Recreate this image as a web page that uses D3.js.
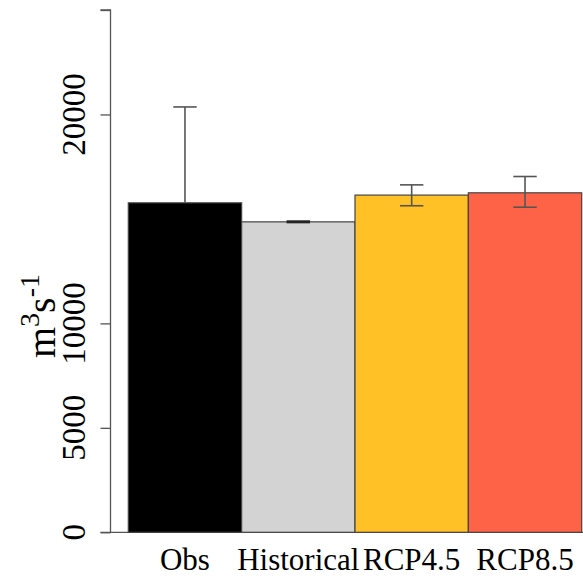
<!DOCTYPE html>
<html>
<head>
<meta charset="utf-8">
<script src="https://cdn.jsdelivr.net/npm/d3@7"></script>
<style>
  body { margin: 0; background: #fff; }
  text { font-family: "Liberation Serif", "DejaVu Serif", serif; fill: #000; }
</style>
</head>
<body>
<script>
const categories = ["Obs", "Historical", "RCP4.5", "RCP8.5"]
const means = [15770, 14860, 16140, 16250]
const errHigh = [20360, 14900, 16630, 17030]
const errLow = [15770, 14820, 15630, 15560]
const colors = ["#000000", "#d3d3d3", "#ffc125", "#ff6347"]
const yTicks = [0, 5000, 10000, 20000]

const width = 583, height = 576

const svg = d3.select("body").append("svg")
    .attr("width", width).attr("height", height)

const x = d3.scaleBand()
    .domain(categories)
    .range([128.3, 581.7])
    .padding(0)

const y = d3.scaleLinear()
    .domain([0, 25000])
    .range([532.3, 10])

// baseline
svg.append("line")
    .attr("x1", 110.5).attr("x2", width)
    .attr("y1", y(0)).attr("y2", y(0))
    .attr("stroke", "#555").attr("stroke-width", 1.3)

// bars
svg.selectAll("rect.bar")
    .data(categories)
    .join("rect")
    .attr("class", "bar")
    .attr("x", d => x(d))
    .attr("width", x.bandwidth())
    .attr("y", (d, i) => y(means[i]))
    .attr("height", (d, i) => y(0) - y(means[i]))
    .attr("fill", (d, i) => colors[i])
    .attr("stroke", "#444")
    .attr("stroke-width", 1.2)

// error bars
const cap = 11.7
const eb = svg.append("g").attr("stroke", "#555").attr("stroke-width", 1.6)
categories.forEach((c, i) => {
    const cx = x(c) + x.bandwidth() / 2
    eb.append("line").attr("x1", cx).attr("x2", cx)
        .attr("y1", y(errLow[i])).attr("y2", y(errHigh[i]))
    eb.append("line").attr("x1", cx - cap).attr("x2", cx + cap)
        .attr("y1", y(errHigh[i])).attr("y2", y(errHigh[i]))
    if (errLow[i] < means[i]) {
        eb.append("line").attr("x1", cx - cap).attr("x2", cx + cap)
            .attr("y1", y(errLow[i])).attr("y2", y(errLow[i]))
    }
})
// historical has a tiny interval, drawn darker
svg.append("line")
    .attr("x1", x("Historical") + x.bandwidth() / 2 - cap)
    .attr("x2", x("Historical") + x.bandwidth() / 2 + cap)
    .attr("y1", y(means[1])).attr("y2", y(means[1]))
    .attr("stroke", "#222").attr("stroke-width", 2.2)

// y axis
const yAxis = svg.append("g")
    .attr("transform", "translate(110.5,0)")
    .call(d3.axisLeft(y).tickValues([...yTicks, 25000]).tickSize(10).tickFormat(""))
yAxis.select(".domain").attr("d", `M-10,${y(25000)}H0V${y(0)}H-10`).attr("stroke", "#555").attr("stroke-width", 1.3)
yAxis.selectAll(".tick line").attr("stroke", "#555").attr("stroke-width", 1.3)

svg.selectAll("text.ytick")
    .data(yTicks)
    .join("text")
    .attr("class", "ytick")
    .attr("transform", d => `translate(85,${y(d)}) rotate(-90)`)
    .attr("text-anchor", "middle")
    .style("font-size", "33px")
    .text(d => d)

// y title
const title = svg.append("text")
    .attr("transform", "translate(55,316) rotate(-90)")
    .attr("text-anchor", "middle")
    .style("font-size", "40px")
title.append("tspan").text("m")
title.append("tspan").attr("dy", -16).style("font-size", "28px").text("3")
title.append("tspan").attr("dy", 16).text("s")
title.append("tspan").attr("dy", -16).style("font-size", "28px").text("-1")

// x labels
svg.selectAll("text.xlab")
    .data(categories)
    .join("text")
    .attr("class", "xlab")
    .attr("x", d => x(d) + x.bandwidth() / 2)
    .attr("y", 570)
    .attr("text-anchor", "middle")
    .style("font-size", "31px")
    .text(d => d)
</script>
</body>
</html>
